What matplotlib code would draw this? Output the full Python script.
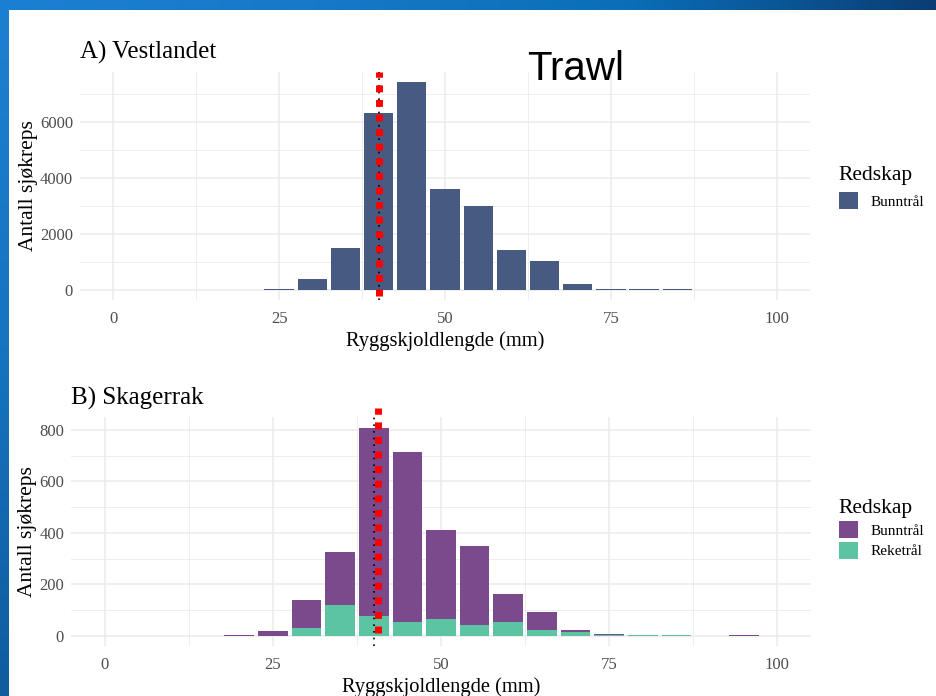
import numpy as np
import matplotlib
matplotlib.use("Agg")
import matplotlib.pyplot as plt
from matplotlib.patches import Patch
from matplotlib.ticker import MultipleLocator

# =====================================================================
# Data
# =====================================================================
vest_bins = [25, 30, 35, 40, 45, 50, 55, 60, 65, 70, 75, 80, 85]
vest_bunntral = [40, 380, 1500, 6310, 7400, 3600, 3000, 1420, 1040, 210, 25, 25, 25]

skag_bins = [20, 25, 30, 35, 40, 45, 50, 55, 60, 65, 70, 75, 80, 85, 90, 95]
skag_reketral = [0, 0, 32, 119, 79, 55, 65, 43, 55, 23, 16, 3, 2, 2, 0, 0]
skag_bunntral = [4, 18, 108, 206, 729, 660, 345, 307, 107, 69, 6, 6, 3, 3, 0, 5]

CUTOFF_MM = 40          # dotted reference line drawn by the plot
OVERLAY_MM_B = 40.7     # red overlay in panel B sits slightly right of 40

XTICKS = [0, 25, 50, 75, 100]

# =====================================================================
# Style
# =====================================================================
plt.rcParams['font.family'] = ['Liberation Serif', 'DejaVu Serif']
COL_BUNN = "#475b82"
COL_BUNN_B = "#7b4a8c"
COL_REKE = "#5cc4a2"
GRID = "#ebebeb"
TICK_COL = "#4d4d4d"

fig = plt.figure(figsize=(9.37, 6.96), dpi=100)
fig.patch.set_facecolor("white")

# slide border: blue gradient strip at top and left
bg = fig.add_axes([0, 0, 1, 1], zorder=-10)
bg.set_xlim(0, 937)
bg.set_ylim(696, 0)
bg.axis("off")
top_grad = np.linspace(0, 1, 256).reshape(1, -1)
cmap_top = matplotlib.colors.LinearSegmentedColormap.from_list(
    "top", ["#1c80d2", "#1779c8", "#0a6fb8", "#0b3d74"])
bg.imshow(top_grad, extent=(0, 937, 10, 0), cmap=cmap_top, aspect="auto")
left_grad = np.linspace(0, 1, 256).reshape(-1, 1)
cmap_left = matplotlib.colors.LinearSegmentedColormap.from_list(
    "left", ["#1c80d2", "#1674c0", "#0f5c9e"])
bg.imshow(left_grad, extent=(0, 9, 696, 0), cmap=cmap_left, aspect="auto")


def style_axes(ax, ymajor, yminor, xlim, ylim):
  ax.set_xlim(*xlim)
  ax.set_ylim(*ylim)
  ax.set_xticks(XTICKS)
  ax.xaxis.set_minor_locator(MultipleLocator(12.5))
  ax.yaxis.set_major_locator(MultipleLocator(ymajor))
  ax.yaxis.set_minor_locator(MultipleLocator(yminor))
  ax.grid(True, which="major", color=GRID, linewidth=1.1)
  ax.grid(True, which="minor", color=GRID, linewidth=0.6)
  ax.set_axisbelow(True)
  for s in ax.spines.values():
    s.set_visible(False)
  ax.tick_params(which="both", length=0)
  ax.tick_params(axis="x", pad=8, labelsize=12, labelcolor=TICK_COL)
  ax.tick_params(axis="y", pad=5, labelsize=12, labelcolor=TICK_COL)
  ax.set_xlabel("Ryggskjoldlengde (mm)", fontsize=14.8, labelpad=3)
  ax.set_ylabel("Antall sjøkreps", fontsize=15.5)


# =====================================================================
# Panel A: Vestlandet
# =====================================================================
ax1 = fig.add_axes([80 / 937, 1 - 300 / 696, 730 / 937, 228 / 696])
ax1.bar(vest_bins, vest_bunntral, width=4.4, color=COL_BUNN)
style_axes(ax1, 2000, 1000, (-5, 105), (-370, 7770))
ax1.axvline(CUTOFF_MM, color="black", linestyle=(0, (1, 3)), linewidth=1.2)
ax1.axvline(CUTOFF_MM, ymin=0.016, ymax=1.0, color="red",
            linestyle=(0, (1, 1.1)), linewidth=5, clip_on=False,
            solid_capstyle="butt", dash_capstyle="butt")
ax1.yaxis.set_label_coords(-0.058, 0.5)

fig.text(80 / 937, 1 - 52 / 696, "A) Vestlandet", fontsize=18, va="center")
fig.text(576 / 937, 1 - 69 / 696, "Trawl", fontsize=29, va="center", ha="center",
         family=["Liberation Sans", "DejaVu Sans"])

fig.legend(handles=[Patch(facecolor=COL_BUNN, label="Bunntrål")],
           loc="upper left", bbox_to_anchor=(831 / 937, 1 - 158 / 696),
           frameon=False, title="Redskap", title_fontsize=15.5, fontsize=11,
           alignment="left", borderpad=0, handlelength=1.3, handleheight=1.3,
           handletextpad=0.8)

# =====================================================================
# Panel B: Skagerrak (stacked)
# =====================================================================
ax2 = fig.add_axes([71 / 937, 1 - 646.3 / 696, 740 / 937, 228.8 / 696])
ax2.bar(skag_bins, skag_reketral, width=4.4, color=COL_REKE)
ax2.bar(skag_bins, skag_bunntral, width=4.4, bottom=skag_reketral, color=COL_BUNN_B)
style_axes(ax2, 200, 100, (-5, 105), (-40, 848))
ax2.axvline(CUTOFF_MM, color="black", linestyle=(0, (1, 3)), linewidth=1.2)
ax2.axvline(OVERLAY_MM_B, ymin=0.058, ymax=1.04, color="red",
            linestyle=(0, (1, 1.1)), linewidth=5, clip_on=False,
            solid_capstyle="butt", dash_capstyle="butt")
ax2.yaxis.set_label_coords(-0.046, 0.5)

fig.text(71 / 937, 1 - 398 / 696, "B) Skagerrak", fontsize=18, va="center")

fig.legend(handles=[Patch(facecolor=COL_BUNN_B, label="Bunntrål"),
                    Patch(facecolor=COL_REKE, label="Reketrål")],
           loc="upper left", bbox_to_anchor=(831 / 937, 1 - 491 / 696),
           frameon=False, title="Redskap", title_fontsize=15.5, fontsize=11,
           alignment="left", borderpad=0, handlelength=1.3, handleheight=1.3,
           handletextpad=0.8, labelspacing=0.25)

fig.savefig("out.png", dpi=100)
